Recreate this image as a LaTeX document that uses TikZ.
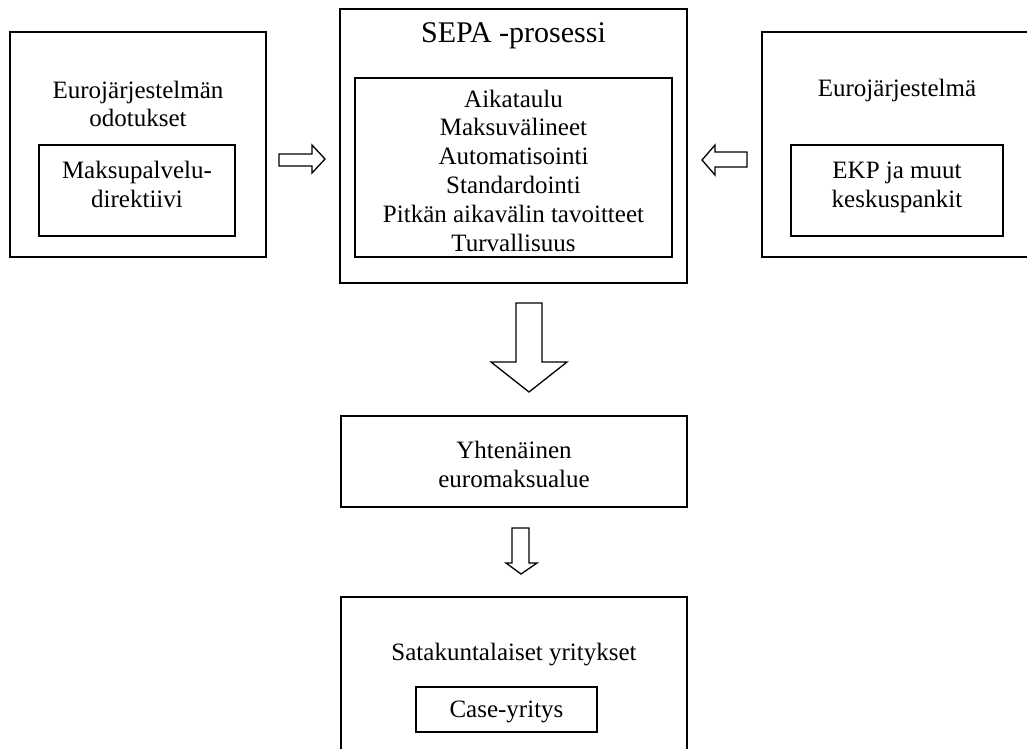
\documentclass[tikz,border=0pt]{standalone}
\usepackage{fontspec}
\setmainfont{Liberation Serif}
\begin{document}
\begin{tikzpicture}[x=1pt,y=-1pt,
  box/.style={draw, line width=1.5pt, inner sep=0pt},
  txt/.style={font=\fontsize{25}{28.8}\selectfont, align=center, inner sep=0pt},
  bigtxt/.style={font=\fontsize{30}{34}\selectfont, align=center, inner sep=0pt},
  blockarrow/.style={draw, line width=1.3pt, fill=white, line join=miter}]
\clip (0,0) rectangle (1027,748);
% boxes
\node[box, minimum width=256pt, minimum height=225pt] (lo) at (138,144.5) {};
\node[box, minimum width=196pt, minimum height=91pt] (li) at (137,190.5) {};
\node[box, minimum width=347pt, minimum height=274pt] (co) at (513.5,146) {};
\node[box, minimum width=317pt, minimum height=179pt] (ci) at (513.5,167.5) {};
\node[box, minimum width=283pt, minimum height=225pt] (ro) at (903.5,144.5) {};
\node[box, minimum width=212pt, minimum height=91pt] (ri) at (897,190.5) {};
\node[box, minimum width=346pt, minimum height=91pt] (mid) at (514,461.5) {};
\node[box, minimum width=346pt, minimum height=163pt] (bot) at (514,678.5) {};
\node[box, minimum width=181pt, minimum height=45pt] (case) at (506.5,709.5) {};
% texts
\node[txt] (t1) at (138,104) {Eurojärjestelmän\\odotukset};
\node[txt] (t2) at (137,184.5) {Maksupalvelu-\\direktiivi};
\node[bigtxt] (t3) at (513.5,35.5) {SEPA -prosessi};
\node[txt] (t4) at (513.5,170.5) {Aikataulu\\Maksuvälineet\\Automatisointi\\Standardointi\\Pitkän aikavälin tavoitteet\\Turvallisuus};
\node[txt] (t5) at (897,90.5) {Eurojärjestelmä};
\node[txt] (t6) at (897,187.5) {EKP ja muut\\keskuspankit};
\node[txt] (t7) at (514,464.5) {Yhtenäinen\\euromaksualue};
\node[txt] (t8) at (514,655) {Satakuntalaiset yritykset};
\node[txt] (t9) at (506.5,712) {Case-yritys};
% block arrows
\draw[blockarrow] (279,154) -- (312,154) -- (312,145) -- (325,159) -- (312,173) -- (312,166) -- (279,166) -- cycle;
\draw[blockarrow] (747,152) -- (715,152) -- (715,145) -- (702,160) -- (715,175) -- (715,167) -- (747,167) -- cycle;
\draw[blockarrow] (516,303) -- (542,303) -- (542,362) -- (567,362) -- (529,392) -- (491,362) -- (516,362) -- cycle;
\draw[blockarrow] (512,528) -- (529,528) -- (529,563) -- (537,563) -- (521,574) -- (506,563) -- (512,563) -- cycle;
\end{tikzpicture}
\end{document}
